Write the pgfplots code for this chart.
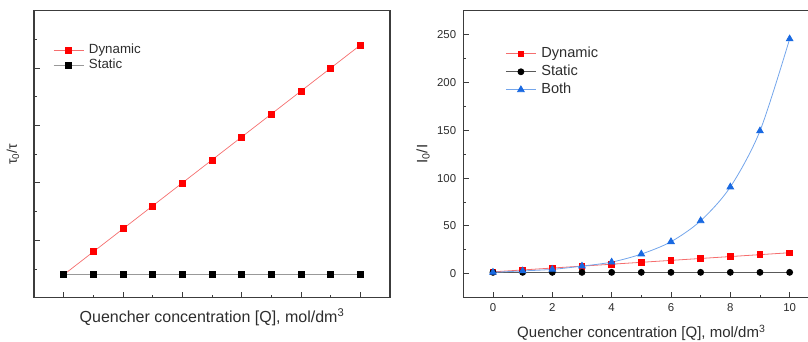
\documentclass[border=0pt]{standalone}
\usepackage{pgfplots}
\pgfplotsset{compat=1.18}
\usepackage{fontspec}
\setmainfont{Liberation Sans}
\definecolor{redmk}{RGB}{255,0,0}
\definecolor{redln}{RGB}{245,110,110}
\definecolor{bluemk}{RGB}{25,105,225}
\definecolor{blueln}{RGB}{115,165,235}
\definecolor{axc}{RGB}{60,60,60}
\definecolor{txt}{RGB}{45,45,45}
\pgfplotsset{
  common/.style={
    scale only axis,
    anchor=south west,
    axis line style={axc, line width=1.2pt},
    every tick/.style={axc, line width=0.9pt},
    tick align=inside,
    major tick length=6pt,
    minor tick length=3pt,
    xtick pos=bottom, ytick pos=left,
    xmin=-1, xmax=11,
    xtick={0,2,4,6,8,10},
    minor xtick={1,3,5,7,9},
    /pgf/number format/assume math mode=true,
    tick label style={font=\fontsize{11.4}{13}\selectfont, text=txt},
    label style={text=txt},
    legend cell align=left,
    legend image code/.code={\draw[mark repeat=2,mark phase=2] plot coordinates {(0pt,0pt) (15pt,0pt) (30pt,0pt)};},
  }
}
\begin{document}
\begin{tikzpicture}[x=1pt,y=1pt]
\useasboundingbox (0,0) rectangle (808,342);
% Left panel
\begin{axis}[common,
  at={(34pt,44.3pt)}, width=356pt, height=287pt,
  ymin=0, ymax=10,
  ytick={2,4,6,8}, minor ytick={1,3,5,7,9},
  yticklabels={}, xticklabels={},
  xlabel={Quencher concentration [Q], mol/dm\textsuperscript{3}},
  xlabel style={font=\fontsize{16}{18}\selectfont, at={(axis description cs:0.5,-0.067)}, anchor=center},
  ylabel={τ\textsubscript{0}/τ},
  ylabel style={font=\fontsize{14}{16}\selectfont, at={(axis description cs:-0.059,0.5)}, anchor=center},
  legend style={draw=none, fill=none, anchor=north west, at={(rel axis cs:0.053,0.886)},
    inner sep=0pt, row sep=2pt, column sep=5pt,
    nodes={inner sep=0pt, text height=10pt, text depth=3pt},
    font=\fontsize{13.3}{15}\selectfont, text=txt},
]
\addplot[redln, line width=0.7pt, mark=square*, mark size=3pt, mark options={redmk, solid}]
  coordinates {(0,0.8) (1,1.6) (2,2.4) (3,3.2) (4,4.0) (5,4.8) (6,5.6) (7,6.4) (8,7.2) (9,8.0) (10,8.8)};
\addlegendentry{Dynamic}
\addplot[black!40, line width=0.9pt, mark=square*, mark size=3pt, mark options={black, solid}]
  coordinates {(0,0.8) (1,0.8) (2,0.8) (3,0.8) (4,0.8) (5,0.8) (6,0.8) (7,0.8) (8,0.8) (9,0.8) (10,0.8)};
\addlegendentry{Static}
\end{axis}
% Right panel
\begin{axis}[common,
  at={(463.3pt,44.3pt)}, width=356pt, height=287pt,
  ymin=-25, ymax=275,
  ytick={0,50,100,150,200,250}, minor ytick={25,75,125,175,225},
  yticklabel style={inner sep=0pt, xshift=-7pt},
  xticklabel style={inner sep=0pt, yshift=-6pt},
  xlabel={Quencher concentration [Q], mol/dm\textsuperscript{3}},
  xlabel style={font=\fontsize{15}{17}\selectfont, at={(axis description cs:0.5,-0.123)}, anchor=center},
  ylabel={I\textsubscript{0}/I},
  ylabel style={font=\fontsize{15}{17}\selectfont, at={(axis description cs:-0.113,0.5)}, anchor=center},
  legend style={draw=none, fill=none, anchor=north west, at={(rel axis cs:0.118,0.875)},
    inner sep=0pt, row sep=4pt, column sep=5pt,
    nodes={inner sep=0pt, text height=11pt, text depth=3pt},
    font=\fontsize{14.6}{17}\selectfont, text=txt},
]
\addplot[redln, line width=0.8pt, mark=square*, mark size=2.8pt, mark options={redmk, solid}]
  coordinates {(0,2) (1,4) (2,6) (3,8) (4,10) (5,12) (6,14) (7,16) (8,18) (9,20) (10,22)};
\addlegendentry{Dynamic}
\addplot[black!65, line width=0.8pt, mark=*, mark size=3pt, mark options={black, solid}]
  coordinates {(0,1.5) (1,1.5) (2,1.5) (3,1.5) (4,1.5) (5,1.5) (6,1.5) (7,1.5) (8,1.5) (9,1.5) (10,1.5)};
\addlegendentry{Static}
\addplot[blueln, line width=0.8pt, smooth, mark=triangle*, mark size=3.8pt, mark options={bluemk, solid}]
  coordinates {(0,1.5) (1,3) (2,4.6) (3,8) (4,12.2) (5,20.6) (6,33.5) (7,55.4) (8,90.7) (9,149.3) (10,245.5)};
\addlegendentry{Both}
\end{axis}
\end{tikzpicture}
\end{document}
